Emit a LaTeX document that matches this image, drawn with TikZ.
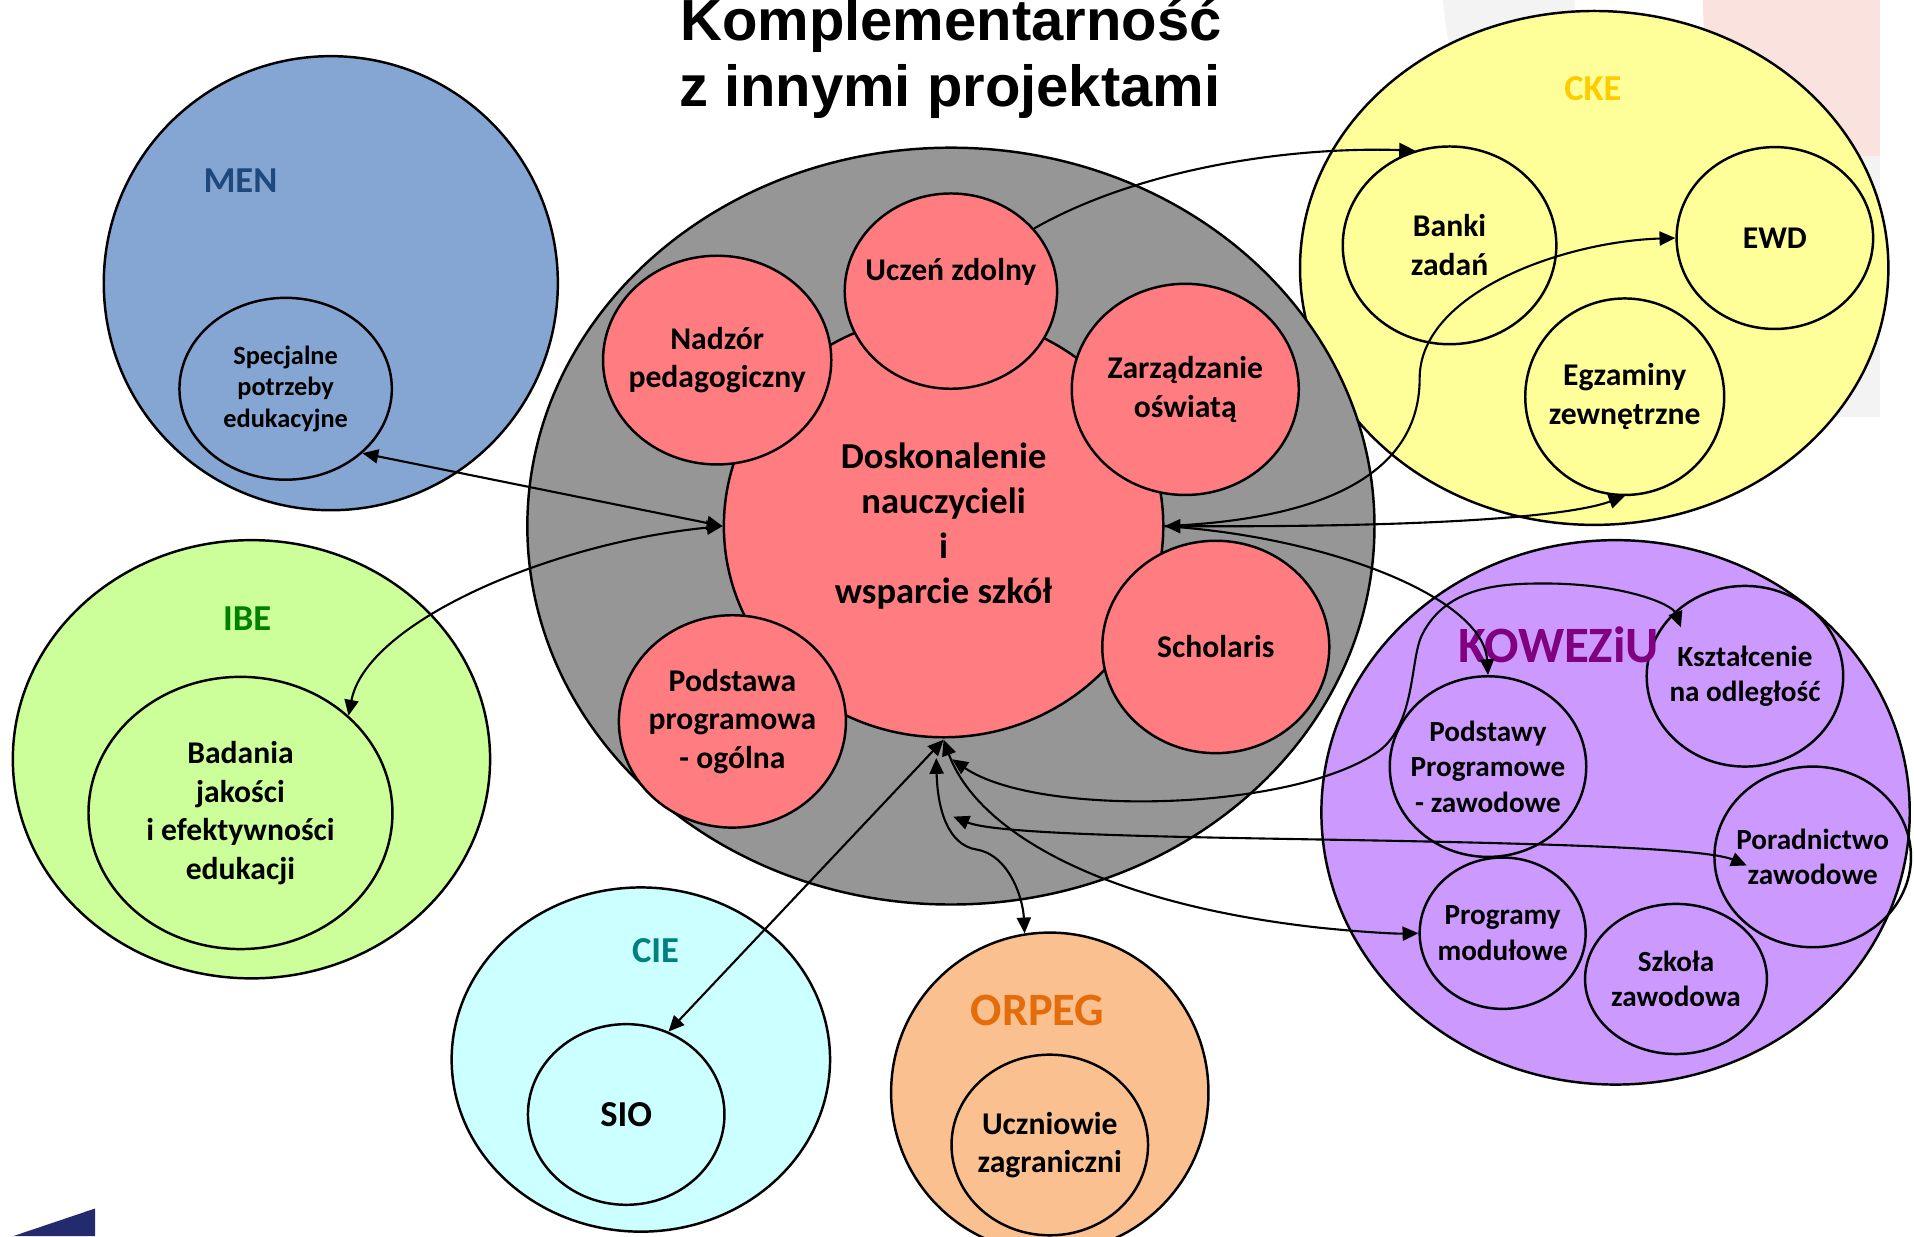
\documentclass[tikz,border=0pt]{standalone}
\usepackage{fontspec}
\setmainfont{Carlito}
\newfontfamily\titlefont{Liberation Sans}
\usetikzlibrary{arrows.meta, positioning, shapes.geometric}

\begin{document}
\begin{tikzpicture}[x=0.012207cm, y=-0.012207cm,
    every node/.style={font=\bfseries},
    oval/.style 2 args={ellipse, draw, line width=0.7pt, inner sep=-12pt,
        minimum width=#1*0.012207cm, minimum height=#2*0.012207cm, align=center},
    fntA/.style={font=\fontsize{10.4}{12.8}\selectfont\bfseries},
    fntB/.style={font=\fontsize{9}{11}\selectfont\bfseries},
    fntC/.style={font=\fontsize{8.3}{10.1}\selectfont\bfseries},
    fntD/.style={font=\fontsize{7.5}{9}\selectfont\bfseries},
    fntO/.style={font=\fontsize{13.2}{15}\selectfont\bfseries},
    fntK/.style={font=\fontsize{14.5}{16}\selectfont\bfseries},
    link/.style={line width=0.6pt, {Triangle[length=4.5pt,width=4pt]}-{Triangle[length=4.5pt,width=4pt]}},
    linkto/.style={line width=0.6pt, -{Triangle[length=4.5pt,width=4pt]}}]
    % Define consistent colors
    \definecolor{menfill}{RGB}{133,166,210}
    \definecolor{mentext}{RGB}{31,73,125}
    \definecolor{ibefill}{RGB}{204,255,153}
    \definecolor{ibetext}{RGB}{0,128,0}
    \definecolor{ciefill}{RGB}{204,255,255}
    \definecolor{cietext}{RGB}{0,128,128}
    \definecolor{orpfill}{RGB}{250,192,143}
    \definecolor{orptext}{RGB}{228,108,10}
    \definecolor{ckefill}{RGB}{255,255,153}
    \definecolor{cketext}{RGB}{255,204,0}
    \definecolor{kowfill}{RGB}{204,153,255}
    \definecolor{kowtext}{RGB}{128,0,128}
    \definecolor{szkgray}{RGB}{150,150,150}
    \definecolor{pinkfill}{RGB}{255,124,128}
    \definecolor{bggray}{RGB}{243,243,243}
    \definecolor{bgpink}{RGB}{250,227,222}
    \definecolor{navy}{RGB}{36,42,110}

    \useasboundingbox (0,0) rectangle (1568,1012.6);
    \clip (0,0) rectangle (1568,1012.6);

    % Background pieces
    \fill[bggray] (1182,0) .. controls (1185,30) and (1190,55) .. (1198,80) -- (1290,80) -- (1290,0) -- cycle;
    \fill[bggray] (1400,128) -- (1540,128) -- (1540,342) -- (1400,342) -- cycle;
    \fill[bgpink] (1395,0) .. controls (1396,45) and (1399,95) .. (1404,128) -- (1540,128) -- (1540,0) -- cycle;
    \fill[navy] (11,1012.6) -- (78,990) -- (78,1012.6) -- cycle;

    % MEN
    \node[oval={372}{372}, fill=menfill] (men) at (271,232) {};
    \node[fntA, text=mentext] (menlbl) at (197,148) {MEN};
    \node[oval={174}{149}, fntD] (spec) at (234,318.5) {Specjalne\\potrzeby\\edukacyjne};

    % IBE
    \node[oval={391}{359}, fill=ibefill] (ibe) at (206,622) {};
    \node[fntA, text=ibetext] (ibelbl) at (202.5,507) {IBE};
    \node[oval={249}{223}, fntB] (bad) at (197,666) {Badania\\jakości\\i efektywności\\edukacji};

    % CIE
    \node[oval={310}{282}, fill=ciefill] (cie) at (525,868) {};
    \node[fntA, text=cietext] (cielbl) at (537,779) {CIE};
    \node[oval={161}{148}, fntA] (sio) at (513,913) {SIO};

    % ORPEG
    \node[oval={260}{262}, fill=orpfill] (orpeg) at (860,895) {};
    \node[fntO, text=orptext] (orplbl) at (850,828) {ORPEG};
    \node[oval={161}{148}, fntB] (ucz) at (860,938) {Uczniowie\\zagraniczni};

    % CKE
    \node[oval={482}{421}, fill=ckefill] (cke) at (1306,219.5) {};
    \node[fntA, text=cketext] (ckelbl) at (1305,73) {CKE};
    \node[oval={175}{162}, fntB] (banki) at (1187.5,201) {Banki\\zadań};
    \node[oval={161}{149}, fntB] (ewd) at (1454,195) {EWD};
    \node[oval={163}{161}, fntB] (egz) at (1331,325) {Egzaminy\\zewnętrzne};

    % Central circle
    \node[oval={694}{620}, fill=szkgray] (szk) at (779,431) {};
    \node[oval={360}{346}, fill=pinkfill, fntA] (dosk) at (773,431) {Doskonalenie\\nauczycieli\\i\\wsparcie szkół};
    \node[oval={174}{160}, fill=pinkfill, label={[fntB, yshift=0.19cm]center:Uczeń zdolny}] (uczen) at (779,238.5) {};
    \node[oval={187}{171}, fill=pinkfill, fntB] (nadz) at (587.5,295) {Nadzór\\pedagogiczny};
    \node[oval={186}{173}, fill=pinkfill, fntB] (zarz) at (971,319) {Zarządzanie\\oświatą};
    \node[oval={186}{174}, fill=pinkfill, fntB] (schol) at (996,530) {Scholaris};
    \node[oval={186}{174}, fill=pinkfill, fntB] (podst) at (600,591) {Podstawa\\programowa\\- ogólna};

    % KOWEZiU
    \node[oval={482}{446}, fill=kowfill] (kow) at (1323.5,665.5) {};
    \node[oval={161}{148}, fntC] (kszt) at (1429.5,554) {Kształcenie\\na odległość};
    \node[oval={161}{148}, fntC] (pzaw) at (1219,628) {Podstawy\\Programowe\\- zawodowe};
    \node[oval={161}{148}, fntC] (porad) at (1485,702) {Poradnictwo\\zawodowe};
    \node[oval={136}{124}, fntC] (prog) at (1231,764.5) {Programy\\modułowe};
    \node[oval={149}{123}, fntC] (szkola) at (1373,802) {Szkoła\\zawodowa};
    \node[fntK, text=kowtext] (kowlbl) at (1277,528) {KOWEZiU};

    % Title
    \node[font=\titlefont\bfseries\fontsize{16.5}{19}\selectfont, anchor=base] (ttlA) at (779,32.8) {Komplementarność};
    \node[font=\titlefont\bfseries\fontsize{16.5}{19}\selectfont, anchor=base] (ttlB) at (778,87.4) {z innymi projektami};

    % Connector ends
    \coordinate (dkA) at (773,606);
    \coordinate (dkB) at (767,621);
    \coordinate (dkC) at (780,622);
    \coordinate (dkD) at (781,669);
    \coordinate (kstip) at (1377,514);
    \coordinate (pdtip) at (1431,709);

    % Connectors
    \draw[link] (spec.-40.5) -- (dosk.west);
    \draw[link] (dosk.west) .. controls (450,445) and (300,510) .. (bad.42.5);
    \draw[linkto] (uczen.37) .. controls (930,140) and (1050,120) .. (banki.110);
    \draw[linkto] (dosk.east) .. controls (1100,425) and (1163,380) .. (1163,310)
        .. controls (1163,240) and (1280,198) .. (ewd.west);
    \draw[link] (dosk.east) .. controls (1150,432) and (1280,425) .. (egz.south);
    \draw[linkto] (dosk.east) .. controls (1090,440) and (1215,490) .. (pzaw.north);
    \draw[link] (dkC) .. controls (850,670) and (1060,665) .. (1130,615)
        .. controls (1160,592) and (1155,540) .. (1165,520)
        .. controls (1185,480) and (1230,478) .. (1265,478)
        .. controls (1330,478) and (1370,495) .. (kstip);
    \draw[link] (dkD) .. controls (820,685) and (1000,686) .. (1150,689)
        .. controls (1300,692) and (1400,696) .. (pdtip);
    \draw[link] (dkA) .. controls (800,680) and (900,740) .. (1081,760)
        .. controls (1120,764) and (1145,765) .. (prog.west);
    \draw[link] (dkB) .. controls (768,662) and (776,692) .. (800,696)
        .. controls (826,700) and (838,735) .. (orpeg.99);
    \draw[link] (dkA) -- (sio.63);
\end{tikzpicture}
\end{document}
